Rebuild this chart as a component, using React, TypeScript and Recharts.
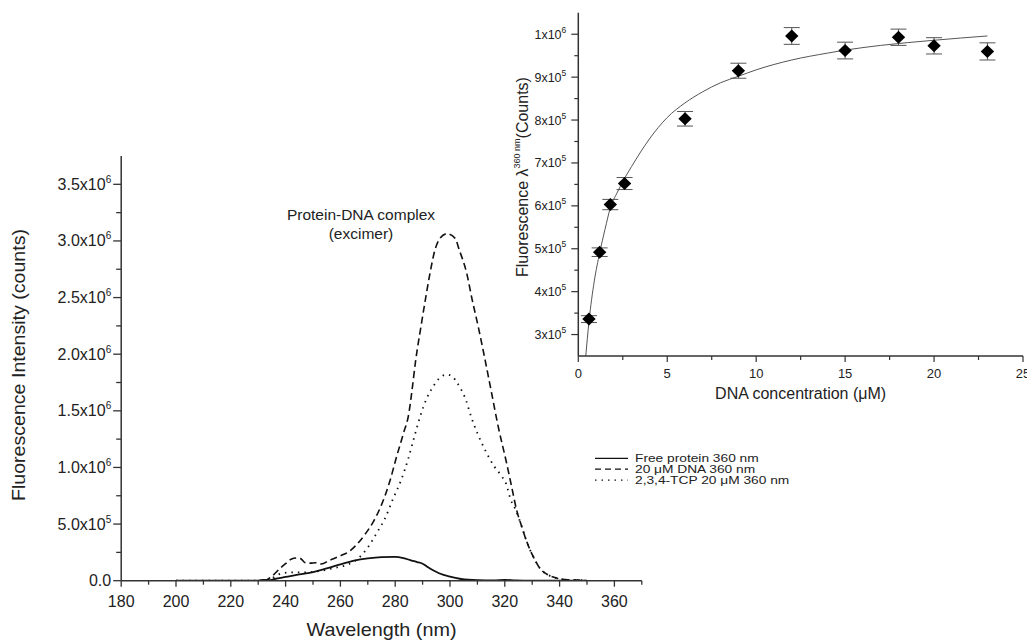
import React from "react";
import {
    LineChart,
    ComposedChart,
    Line,
    Scatter,
    ErrorBar,
    XAxis,
    YAxis,
    Legend,
    Label,
} from "recharts";

const FONT = "'Liberation Sans', Arial, Helvetica, sans-serif";
const INK = "#222";
const AXIS = "#333";

// main spectrum: wavelength (nm) / fluorescence counts
const freeWavelength = [200, 220, 230, 232, 234, 236, 240, 245, 250, 255, 260, 265, 270, 275, 280, 283, 286, 288, 290, 292, 294, 296, 300, 304, 310, 316, 320, 324, 330, 350];
const freeProtein = [0, 0, 0, 8e3, 4e3, 15e3, 33e3, 55e3, 75e3, 108e3, 145e3, 178e3, 198e3, 209e3, 211e3, 200e3, 178e3, 165e3, 150e3, 118e3, 90e3, 66e3, 35e3, 15e3, 4e3, 2e3, 7e3, 2e3, 0, 0];

const dnaWavelength = [200, 232, 235, 238, 240, 242, 244, 245.5, 247, 249, 251, 253, 256, 260, 263, 266, 269, 272, 275, 278, 280.5, 283, 285, 286, 287.5, 289.4, 291, 292.7, 294.5, 296.4, 298.8, 301.8, 303.4, 306.1, 308.1, 310.3, 312.8, 315.2, 317.6, 320.4, 322.5, 324.3, 326.2, 328, 330.4, 332.8, 335.9, 339.5, 343, 347, 350];
const dnaComplex = [0, 0, 0.04e6, 0.11e6, 0.15e6, 0.19e6, 0.2e6, 0.195e6, 0.16e6, 0.155e6, 0.158e6, 0.148e6, 0.18e6, 0.22e6, 0.255e6, 0.32e6, 0.41e6, 0.52e6, 0.67e6, 0.875e6, 1.095e6, 1.3e6, 1.48e6, 1.655e6, 1.95e6, 2.244e6, 2.48e6, 2.715e6, 2.92e6, 3.025e6, 3.063e6, 3.025e6, 2.92e6, 2.715e6, 2.48e6, 2.244e6, 1.95e6, 1.655e6, 1.36e6, 1.066e6, 0.83e6, 0.625e6, 0.477e6, 0.345e6, 0.212e6, 0.11e6, 0.05e6, 0.02e6, 0.008e6, 0.005e6, 0];

const tcpWavelength = [200, 232, 234, 236, 238.6, 242.8, 247.7, 252.6, 257.4, 262.3, 265, 267.2, 270.2, 273.2, 276.3, 279.3, 282.2, 284.8, 287.2, 289.3, 291.5, 293.1, 295.1, 297, 299, 301, 302.7, 305.8, 307.7, 310, 312.8, 316.2, 318.5, 320.4, 322.2, 323.9, 326.2, 328, 330.4, 332.8, 335.9, 339.5, 343, 347, 350];
const tcpComplex = [0, 0, 0.01e6, 0.035e6, 0.065e6, 0.074e6, 0.074e6, 0.086e6, 0.11e6, 0.139e6, 0.17e6, 0.212e6, 0.3e6, 0.419e6, 0.551e6, 0.728e6, 0.89e6, 1.08e6, 1.29e6, 1.464e6, 1.61e6, 1.685e6, 1.76e6, 1.805e6, 1.82e6, 1.8e6, 1.744e6, 1.596e6, 1.449e6, 1.302e6, 1.155e6, 1.007e6, 0.934e6, 0.86e6, 0.713e6, 0.63e6, 0.477e6, 0.345e6, 0.212e6, 0.11e6, 0.05e6, 0.02e6, 0.008e6, 0.005e6, 0];

const seriesNames = ["Free protein 360 nm", "20 \u03bcM DNA 360 nm", "2,3,4-TCP 20 \u03bcM 360 nm"];
const seriesDash = [undefined, "6 4", "1.5 5"];

const mainXTicks = [180, 190, 200, 210, 220, 230, 240, 250, 260, 270, 280, 290, 300, 310, 320, 330, 340, 350, 360, 370];
const mainYTicks = [0, 0.25e6, 0.5e6, 0.75e6, 1e6, 1.25e6, 1.5e6, 1.75e6, 2e6, 2.25e6, 2.5e6, 2.75e6, 3e6, 3.25e6, 3.5e6];

// inset: titration at 360 nm
const dnaConc = [0.6, 1.2, 1.8, 2.6, 6, 9, 12, 15, 18, 20, 23];
const fluor360 = [3.36e5, 4.92e5, 6.03e5, 6.52e5, 8.03e5, 9.15e5, 9.96e5, 9.62e5, 9.93e5, 9.73e5, 9.6e5];
const fluorErr = [0.8e4, 1.0e4, 1.2e4, 1.4e4, 1.7e4, 1.75e4, 1.95e4, 1.95e4, 1.9e4, 1.9e4, 2.0e4];
const fitConc = [0.42, 0.6, 0.9, 1.2, 1.5, 1.8, 2.2, 2.6, 3, 4, 5, 6, 7, 8, 9, 10, 12, 14, 15, 17, 20, 23];
const fitFluor = [2.5e5, 3.3e5, 4.25e5, 4.9e5, 5.45e5, 5.95e5, 6.32e5, 6.64e5, 6.92e5, 7.56e5, 8.06e5, 8.4e5, 8.66e5, 8.87e5, 9.02e5, 9.17e5, 9.4e5, 9.56e5, 9.63e5, 9.74e5, 9.86e5, 9.96e5];

const insetXTicks = [0, 2.5, 5, 7.5, 10, 12.5, 15, 17.5, 20, 22.5, 25];
const insetYTicks = [3e5, 3.5e5, 4e5, 4.5e5, 5e5, 5.5e5, 6e5, 6.5e5, 7e5, 7.5e5, 8e5, 8.5e5, 9e5, 9.5e5, 1e6];

const toSpectrum = (xs: number[], ys: number[]) => xs.map((wl, i) => ({ wl, v: ys[i] }));
const freeData = toSpectrum(freeWavelength, freeProtein);
const dnaData = toSpectrum(dnaWavelength, dnaComplex);
const tcpData = toSpectrum(tcpWavelength, tcpComplex);
const pointData = dnaConc.map((x, i) => ({ x, y: fluor360[i], err: fluorErr[i] }));
const fitData = fitConc.map((x, i) => ({ x, y: fitFluor[i] }));

const axisLine = { stroke: AXIS, strokeWidth: 1.5 };

const sci = (v: number, digits: number) => {
    const exp = Math.floor(Math.log10(v));
    return { mant: (v / Math.pow(10, exp)).toFixed(digits), exp };
};

const MainYTick = (props: any) => {
    const { x, y, payload } = props;
    const v = payload.value as number;
    const major = v % 500000 === 0;
    let label: React.ReactNode = null;
    if (major) {
        if (v === 0) label = "0.0";
        else {
            const s = sci(v, 1);
            label = (
                <>
                    {s.mant}x10
                    <tspan dy={-7} fontSize={10}>{s.exp}</tspan>
                </>
            );
        }
    }
    return (
        <g>
            <line x1={x} x2={x - (major ? 8 : 5)} y1={y} y2={y} stroke={AXIS} strokeWidth={1.3} />
            {major && (
                <text x={x - 10} y={y + 5.5} textAnchor="end" fontSize={16} fontFamily={FONT} fill={INK}>
                    {label}
                </text>
            )}
        </g>
    );
};

const MainXTick = (props: any) => {
    const { x, y, payload } = props;
    const v = payload.value as number;
    const major = v % 20 === 0;
    return (
        <g>
            <line x1={x} x2={x} y1={y} y2={y + (major ? 6 : 4)} stroke={AXIS} strokeWidth={1.3} />
            {major && (
                <text x={x} y={y + 26} textAnchor="middle" fontSize={16} fontFamily={FONT} fill={INK}>
                    {v}
                </text>
            )}
        </g>
    );
};

const InsetYTick = (props: any) => {
    const { x, y, payload } = props;
    const v = payload.value as number;
    const major = v % 100000 === 0;
    const s = sci(v, 0);
    return (
        <g>
            <line x1={x} x2={x - (major ? 7 : 4)} y1={y} y2={y} stroke={AXIS} strokeWidth={1.2} />
            {major && (
                <text x={x - 12} y={y + 4.5} textAnchor="end" fontSize={12.5} fontFamily={FONT} fill={INK}>
                    {s.mant}x10
                    <tspan dy={-6} fontSize={8.5}>{s.exp}</tspan>
                </text>
            )}
        </g>
    );
};

const InsetXTick = (props: any) => {
    const { x, y, payload } = props;
    const v = payload.value as number;
    const major = v % 5 === 0;
    return (
        <g>
            <line x1={x} x2={x} y1={y} y2={y + (major ? 6 : 4)} stroke={AXIS} strokeWidth={1.2} />
            {major && (
                <text x={x} y={y + 22} textAnchor="middle" fontSize={13} fontFamily={FONT} fill={INK}>
                    {v}
                </text>
            )}
        </g>
    );
};

const Diamond = (props: any) => {
    const { cx, cy } = props;
    return (
        <polygon
            points={`${cx},${cy - 6.5} ${cx + 6.7},${cy} ${cx},${cy + 6.5} ${cx - 6.7},${cy}`}
            fill="#000"
        />
    );
};

// legend drawn as svg so the rows can sit as tight as in the original
const LegendBox = () => (
    <svg width={240} height={36} style={{ display: "block" }}>
        {seriesNames.map((name, i) => {
            const cy = 6.3 + i * 10.9;
            return (
                <g key={name}>
                    <line x1={1} x2={34} y1={cy} y2={cy} stroke="#111" strokeWidth={1.2} strokeDasharray={seriesDash[i]} />
                    <text
                        transform={`translate(41, ${cy + 4}) scale(1.25, 1)`}
                        fontSize={11}
                        fontFamily={FONT}
                        fill={INK}
                    >
                        {name}
                    </text>
                </g>
            );
        })}
    </svg>
);

export default function App() {
    return (
        <div style={{ position: "absolute", left: 0, top: 0, width: 1027, height: 641, background: "#fff" }}>
            <div style={{ position: "absolute", left: 0, top: 0 }}>
                <LineChart width={1027} height={641} margin={{ top: 156, right: 385.2, bottom: 0, left: 0 }}>
                    <XAxis
                        type="number"
                        dataKey="wl"
                        domain={[180, 370]}
                        ticks={mainXTicks}
                        interval={0}
                        allowDataOverflow
                        height={60.3}
                        tickSize={0}
                        tickMargin={0}
                        tickLine={false}
                        axisLine={axisLine}
                        tick={(p: any) => <MainXTick {...p} />}
                    >
                        <Label
                            content={({ viewBox }: any) => (
                                <text
                                    x={viewBox.x + viewBox.width / 2}
                                    y={636}
                                    textAnchor="middle"
                                    fontSize={19}
                                    fontFamily={FONT}
                                    fill={INK}
                                    textLength={150}
                                    lengthAdjust="spacingAndGlyphs"
                                >
                                    Wavelength (nm)
                                </text>
                            )}
                        />
                    </XAxis>
                    <YAxis
                        type="number"
                        domain={[0, 3.75e6]}
                        ticks={mainYTicks}
                        interval={0}
                        allowDataOverflow
                        width={121.2}
                        tickSize={0}
                        tickMargin={0}
                        tickLine={false}
                        axisLine={axisLine}
                        tick={(p: any) => <MainYTick {...p} />}
                    >
                        <Label
                            content={() => (
                                <text
                                    x={25}
                                    y={365}
                                    transform="rotate(-90, 25, 365)"
                                    textAnchor="middle"
                                    fontSize={19}
                                    fontFamily={FONT}
                                    fill={INK}
                                    textLength={272}
                                    lengthAdjust="spacingAndGlyphs"
                                >
                                    Fluorescence Intensity (counts)
                                </text>
                            )}
                        />
                    </YAxis>
                    <Line data={freeData} dataKey="v" name={seriesNames[0]} type="monotone" stroke="#111" strokeWidth={1.8} dot={false} isAnimationActive={false} />
                    <Line data={dnaData} dataKey="v" name={seriesNames[1]} type="monotone" stroke="#111" strokeWidth={1.6} strokeDasharray="7 4" dot={false} isAnimationActive={false} />
                    <Line data={tcpData} dataKey="v" name={seriesNames[2]} type="monotone" stroke="#111" strokeWidth={1.8} strokeDasharray={seriesDash[2]} dot={false} isAnimationActive={false} />
                    <Legend
                        layout="horizontal"
                        verticalAlign="middle"
                        align="center"
                        content={() => <LegendBox />}
                        wrapperStyle={{ left: 594, top: 452, width: 240, height: 36 }}
                    />
                </LineChart>
            </div>

            <svg width={1027} height={641} style={{ position: "absolute", left: 0, top: 0, pointerEvents: "none" }}>
                <text x={361} y={220} textAnchor="middle" fontSize={15.5} fontFamily={FONT} fill={INK}>
                    Protein-DNA complex
                </text>
                <text x={361} y={239} textAnchor="middle" fontSize={15.5} fontFamily={FONT} fill={INK}>
                    (excimer)
                </text>
            </svg>

            <div style={{ position: "absolute", left: 0, top: 0 }}>
                <ComposedChart width={1027} height={641} margin={{ top: 12.8, right: 4, bottom: 0, left: 0 }}>
                    <XAxis
                        type="number"
                        dataKey="x"
                        domain={[0, 25]}
                        ticks={insetXTicks}
                        interval={0}
                        allowDataOverflow
                        height={285}
                        tickSize={0}
                        tickMargin={0}
                        tickLine={false}
                        axisLine={axisLine}
                        tick={(p: any) => <InsetXTick {...p} />}
                    >
                        <Label
                            content={({ viewBox }: any) => (
                                <text
                                    x={viewBox.x + viewBox.width / 2}
                                    y={399}
                                    textAnchor="middle"
                                    fontSize={16}
                                    fontFamily={FONT}
                                    fill={INK}
                                >
                                    DNA concentration ({"\u03bc"}M)
                                </text>
                            )}
                        />
                    </XAxis>
                    <YAxis
                        type="number"
                        dataKey="y"
                        domain={[2.5e5, 1.05e6]}
                        ticks={insetYTicks}
                        interval={0}
                        allowDataOverflow
                        width={578.3}
                        tickSize={0}
                        tickMargin={0}
                        tickLine={false}
                        axisLine={axisLine}
                        tick={(p: any) => <InsetYTick {...p} />}
                    >
                        <Label
                            content={() => (
                                <text
                                    x={528}
                                    y={177}
                                    transform="rotate(-90, 528, 177)"
                                    textAnchor="middle"
                                    fontSize={16}
                                    fontFamily={FONT}
                                    fill={INK}
                                >
                                    Fluorescence {"\u03bb"}
                                    <tspan dy={-8} fontSize={9}>360 nm</tspan>
                                    <tspan dy={8}>(Counts)</tspan>
                                </text>
                            )}
                        />
                    </YAxis>
                    <Line data={fitData} dataKey="y" type="monotone" stroke="#555" strokeWidth={1} dot={false} isAnimationActive={false} />
                    <Scatter data={pointData} dataKey="y" shape={(p: any) => <Diamond {...p} />} isAnimationActive={false}>
                        <ErrorBar dataKey="err" direction="y" width={8} stroke="#555" strokeWidth={1} />
                    </Scatter>
                </ComposedChart>
            </div>
        </div>
    );
}
